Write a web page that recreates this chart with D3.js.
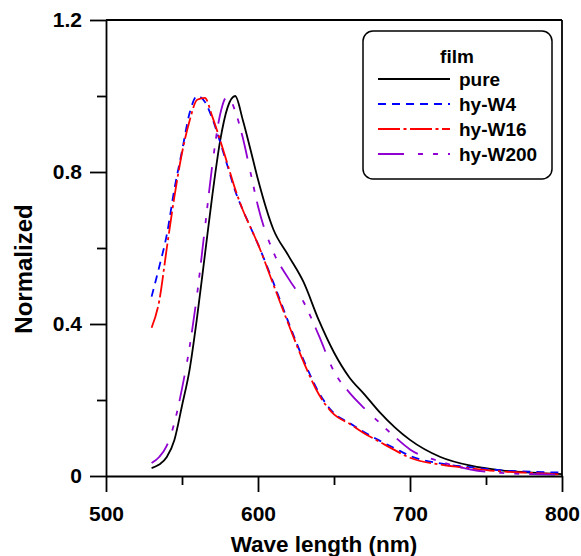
<!DOCTYPE html>
<html>
<head>
<meta charset="utf-8">
<script src="https://cdn.jsdelivr.net/npm/d3@7"></script>
<style>
  body { margin: 0; background: #fff; }
  svg text { font-family: "Liberation Sans", Arial, sans-serif; font-weight: bold; fill: #000; }
</style>
</head>
<body>
<div id="chart"></div>
<script>
// wavelength grid (nm) shared by every series
var wavelengths = [530, 535, 540, 545, 550, 555, 560, 565, 570, 575, 580, 585, 590, 595, 600,
  610, 620, 630, 640, 650, 660, 670, 680, 690, 700, 720, 740, 760, 780, 800];

// normalized intensity
var pure = [0.021, 0.03, 0.05, 0.095, 0.185, 0.28, 0.42, 0.58, 0.74, 0.88, 0.97, 1.0, 0.937, 0.86, 0.78,
  0.65, 0.58, 0.51, 0.41, 0.325, 0.26, 0.215, 0.168, 0.128, 0.095, 0.05, 0.027, 0.015, 0.009, 0.005];
var hyW4 = [0.472, 0.55, 0.635, 0.755, 0.855, 0.955, 1.0, 0.985, 0.94, 0.88, 0.815, 0.75, 0.70, 0.655, 0.61,
  0.51, 0.405, 0.305, 0.22, 0.165, 0.14, 0.115, 0.093, 0.073, 0.053, 0.033, 0.023, 0.015, 0.011, 0.009];
var hyW16 = [0.39, 0.46, 0.60, 0.735, 0.85, 0.935, 0.99, 0.995, 0.945, 0.885, 0.82, 0.755, 0.70, 0.655, 0.61,
  0.505, 0.40, 0.30, 0.215, 0.162, 0.138, 0.112, 0.09, 0.068, 0.048, 0.03, 0.02, 0.012, 0.008, 0.004];
var hyW200 = [0.034, 0.05, 0.08, 0.14, 0.23, 0.34, 0.48, 0.65, 0.82, 0.95, 1.0, 0.96, 0.89, 0.80, 0.71,
  0.59, 0.52, 0.458, 0.37, 0.275, 0.22, 0.178, 0.14, 0.103, 0.07, 0.038, 0.017, 0.008, 0.005, 0.003];

var seriesNames = ["pure", "hy-W4", "hy-W16", "hy-W200"];
var seriesValues = [pure, hyW4, hyW16, hyW200];

var xTicks = [500, 600, 700, 800];
var xMinorTicks = [550, 650, 750];
var yTicks = [0, 0.4, 0.8, 1.2];
var yMinorTicks = [0.2, 0.6, 1.0];

var legendTitle = "film";
var xTitle = "Wave length (nm)";
var yTitle = "Normalized";

// line styles per series
var styles = [
  { color: "#000000", dash: null },
  { color: "#0000ff", dash: "8,6" },
  { color: "#ff0000", dash: "22,3.5,3,3.5" },
  { color: "#9000d0", dash: "26,14,5,10,5,10" }
];

var width = 581, height = 556;
var margin = { left: 106, right: 19, top: 20, bottom: 80 };

var svg = d3.select("#chart").append("svg")
  .attr("width", width)
  .attr("height", height);

var x = d3.scaleLinear().domain([500, 800]).range([margin.left, width - margin.right]);
var y = d3.scaleLinear().domain([0, 1.2]).range([height - margin.bottom, margin.top]);

var axisWidth = 1.8;

// curves
var line = d3.line()
  .x(function(d) { return x(d[0]); })
  .y(function(d) { return y(d[1]); })
  .curve(d3.curveMonotoneX);

seriesValues.forEach(function(vals, i) {
  var pts = wavelengths.map(function(w, j) { return [w, vals[j]]; });
  svg.append("path")
    .datum(pts)
    .attr("fill", "none")
    .attr("stroke", styles[i].color)
    .attr("stroke-width", 1.8)
    .attr("stroke-dasharray", styles[i].dash)
    .attr("d", line);
});

// frame: top and right edges
svg.append("line")
  .attr("x1", x(500)).attr("x2", x(800))
  .attr("y1", y(1.2)).attr("y2", y(1.2))
  .attr("stroke", "#000").attr("stroke-width", axisWidth);
svg.append("line")
  .attr("x1", x(800)).attr("x2", x(800))
  .attr("y1", y(1.2)).attr("y2", y(0))
  .attr("stroke", "#000").attr("stroke-width", axisWidth);

// y axis, major and minor ticks
svg.append("g")
  .attr("transform", "translate(" + margin.left + ",0)")
  .call(d3.axisLeft(y).tickValues(yTicks).tickSize(16).tickSizeOuter(0).tickPadding(8)
    .tickFormat(function(d) { return d === 0 ? "0" : d3.format(".1f")(d); }));
svg.append("g")
  .attr("transform", "translate(" + margin.left + ",0)")
  .call(d3.axisLeft(y).tickValues(yMinorTicks).tickSize(9).tickFormat(""))
  .select(".domain").remove();

// x axis, major and minor ticks
svg.append("g")
  .attr("transform", "translate(0," + y(0) + ")")
  .call(d3.axisBottom(x).tickValues(xTicks).tickSize(16).tickSizeOuter(0).tickPadding(14)
    .tickFormat(d3.format("d")));
svg.append("g")
  .attr("transform", "translate(0," + y(0) + ")")
  .call(d3.axisBottom(x).tickValues(xMinorTicks).tickSize(9).tickFormat(""))
  .select(".domain").remove();

svg.selectAll(".tick line, .domain").attr("stroke", "#000").attr("stroke-width", axisWidth);
svg.selectAll(".tick text")
  .attr("font-size", 21)
  .attr("font-family", null)
  .attr("fill", "#000");

// axis titles
svg.append("text")
  .attr("x", 324)
  .attr("y", 552)
  .attr("text-anchor", "middle")
  .attr("font-size", 22.5)
  .text(xTitle);

svg.append("text")
  .attr("transform", "translate(32,269) rotate(-90)")
  .attr("text-anchor", "middle")
  .attr("font-size", 24)
  .text(yTitle);

// legend
var legend = svg.append("g");
legend.append("rect")
  .attr("x", 363).attr("y", 31)
  .attr("width", 189).attr("height", 148)
  .attr("rx", 10)
  .attr("fill", "#fff")
  .attr("stroke", "#000")
  .attr("stroke-width", 1.5);

legend.append("text")
  .attr("x", 457).attr("y", 63)
  .attr("text-anchor", "middle")
  .attr("font-size", 19)
  .text(legendTitle);

seriesNames.forEach(function(name, i) {
  var ly = 79 + i * 25;
  legend.append("line")
    .attr("x1", 378).attr("x2", 450)
    .attr("y1", ly).attr("y2", ly)
    .attr("stroke", styles[i].color)
    .attr("stroke-width", 1.8)
    .attr("stroke-dasharray", styles[i].dash);
  legend.append("text")
    .attr("x", 459).attr("y", ly + 7)
    .attr("font-size", 19)
    .text(name);
});
</script>
</body>
</html>
